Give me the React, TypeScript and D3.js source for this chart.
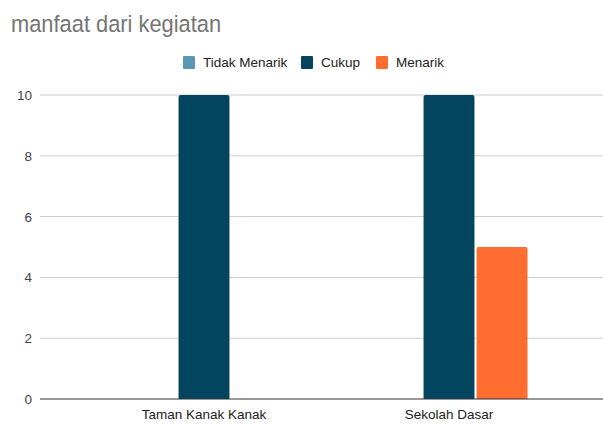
import * as d3 from 'd3';

const categories = ['Taman Kanak Kanak', 'Sekolah Dasar'];
const seriesNames = ['Tidak Menarik', 'Cukup', 'Menarik'];
const tidakMenarik = [0, 0];
const cukup = [10, 10];
const menarik = [0, 5];
const yTicks = [0, 2, 4, 6, 8, 10];
const colors = ['#5b95b8', '#03445f', '#ff6d31'];

const width = 603;
const height = 424;
const plotLeft = 40;
const plotTop = 95;
const plotBottom = 399;

const App = () => {
  const values = [tidakMenarik, cukup, menarik];

  const x0 = d3.scaleBand().domain(categories).range([81.5, 571.5]).padding(0);
  const x1 = d3.scaleBand().domain(seriesNames).range([0, 157]).paddingInner(0.04);
  const y = d3.scaleLinear().domain([0, 10]).range([plotBottom, plotTop]);

  const legendItems = [
    { name: seriesNames[0], x: 183, color: colors[0] },
    { name: seriesNames[1], x: 301, color: colors[1] },
    { name: seriesNames[2], x: 376, color: colors[2] },
  ];

  const bars: any[] = [];
  categories.forEach((c, ci) => {
    seriesNames.forEach((s, si) => {
      const v = values[si][ci];
      if (!v) return;
      const bx = x0(c)! + x0.bandwidth() / 2 - 157 / 2 + x1(s)!;
      bars.push({ key: c + s, x: bx, y: y(v), w: x1.bandwidth(), h: y(0) - y(v), color: colors[si] });
    });
  });

  return (
    <svg
      width={width}
      height={height}
      style={{ position: 'absolute', left: 0, top: 0, background: '#fff', fontFamily: '"Liberation Sans", Arial, sans-serif' }}
    >
      <rect x={0} y={0} width={width} height={height} fill="#fff" />
      {/* title glyphs are a bit condensed in the original */}
      <text transform="translate(11,32) scale(0.93,1)" fontSize={23.5} fill="#757575">manfaat dari kegiatan</text>

      {legendItems.map((d) => (
        <g key={d.name}>
          <rect x={d.x} y={56} width={12} height={13} rx={1} fill={d.color} />
          <text x={d.x + 20} y={67} fontSize={13.5} fill="#222">{d.name}</text>
        </g>
      ))}

      {yTicks.map((t) => (
        <g key={t}>
          {t !== 0 && (
            <line x1={plotLeft} x2={width} y1={y(t)} y2={y(t)} stroke="#cccccc" strokeWidth={1} />
          )}
          <text x={32} y={y(t) + 5} fontSize={13.5} fill="#444" textAnchor="end">{t}</text>
        </g>
      ))}

      {bars.map((b) => (
        <path
          key={b.key}
          d={`M${b.x},${b.y + b.h} V${b.y + 2} Q${b.x},${b.y} ${b.x + 2},${b.y} H${b.x + b.w - 2} Q${b.x + b.w},${b.y} ${b.x + b.w},${b.y + 2} V${b.y + b.h} Z`}
          fill={b.color}
        />
      ))}

      <line x1={plotLeft} x2={width} y1={y(0)} y2={y(0)} stroke="#333" strokeWidth={1} />

      {categories.map((c) => (
        <text key={c} x={x0(c)! + x0.bandwidth() / 2} y={419} fontSize={13.5} fill="#222" textAnchor="middle">{c}</text>
      ))}
    </svg>
  );
};

export default App;
